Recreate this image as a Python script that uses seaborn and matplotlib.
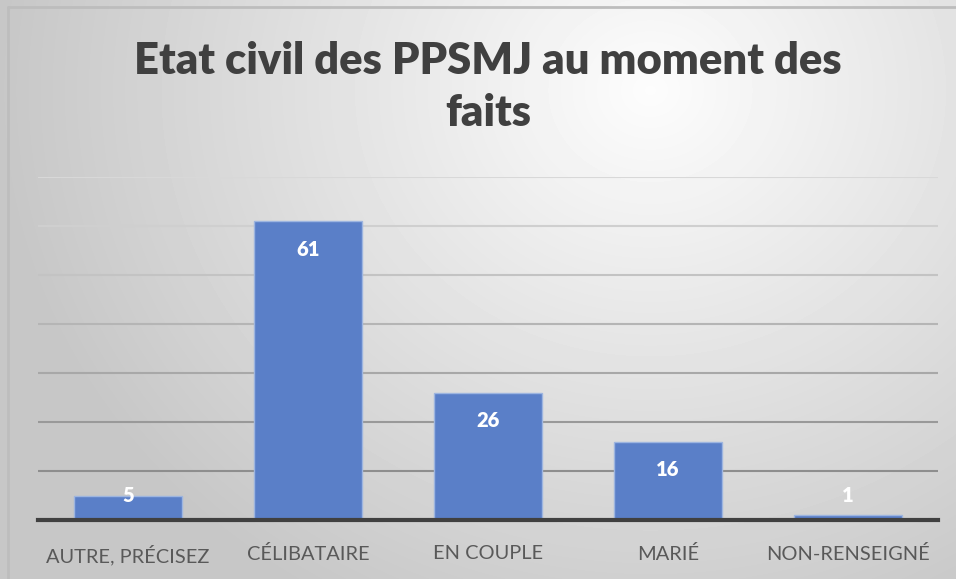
import matplotlib.pyplot as plt
import numpy as np
import seaborn as sns
from matplotlib.lines import Line2D

categories = ["AUTRE, PRÉCISEZ", "CÉLIBATAIRE", "EN COUPLE", "MARIÉ", "NON-RENSEIGNÉ"]
values = [5, 61, 26, 16, 1]
title = "Etat civil des PPSMJ au moment des\nfaits"

W, H = 956, 579
sns.set_theme(style="white")
plt.rcParams["font.family"] = ["Lato", "DejaVu Sans"]

fig = plt.figure(figsize=(W / 100, H / 100), dpi=100)

# radial grey gradient behind the chart
bg = fig.add_axes([0, 0, 1, 1], zorder=-2)
yy, xx = np.mgrid[0:H, 0:W]
dist = np.hypot((xx - 650) / 1.0, (yy - 90) / 0.9)
shade = np.clip(0.99 - 0.21 * dist / 650, 0.78, 1.0)
bg.imshow(shade, cmap="gray", vmin=0, vmax=1, extent=[0, W, H, 0], aspect="auto")
bg.set_xlim(0, W)
bg.set_ylim(H, 0)
bg.axis("off")

# frame lines at top and left edge
fig.add_artist(Line2D([8 / W, 1], [1 - 7 / H] * 2, color="#BDBDBD", lw=2))
fig.add_artist(Line2D([8 / W] * 2, [0, 1 - 7 / H], color="#BDBDBD", lw=2))

ax = fig.add_axes([38 / W, 1 - 520 / H, 900 / W, 343 / H])
ax.patch.set_alpha(0)
sns.barplot(x=categories, y=values, color="#5A7FC8", width=0.6, saturation=1,
            edgecolor="#9DB5E0", linewidth=1, ax=ax, zorder=3)
ax.set_ylim(0, 70)
ax.set_yticks(range(10, 71, 10))
ax.yaxis.grid(True, lw=1.5)
greys = ["#8E8E8E", "#999999", "#A8A8A8", "#B5B5B5", "#C3C3C3", "#CFCFCF", "#D8D8D8"]
for line, c in zip(ax.yaxis.get_gridlines(), greys):
    line.set_color(c)
ax.set_axisbelow(True)
ax.tick_params(axis="y", left=False, labelleft=False)
ax.tick_params(axis="x", bottom=False, labelsize=14.4, labelcolor="#595959", pad=12)
ax.set_xlabel("")
ax.set_ylabel("")
for side in ["left", "right", "top"]:
    ax.spines[side].set_visible(False)
ax.spines["bottom"].set_color("#404040")
ax.spines["bottom"].set_linewidth(3)
ax.spines["bottom"].set_zorder(4)

for i, v in enumerate(values):
    ax.text(i, max(v - 5.7, 4.9), str(v), ha="center", va="center",
            color="white", fontsize=14.5, fontweight="heavy", zorder=5)

fig.text(488 / W, 1 - 87 / H, title, ha="center", va="center", fontsize=31.3,
         fontweight="heavy", color="#404040", linespacing=1.38)

fig.savefig("out.png", dpi=100)
